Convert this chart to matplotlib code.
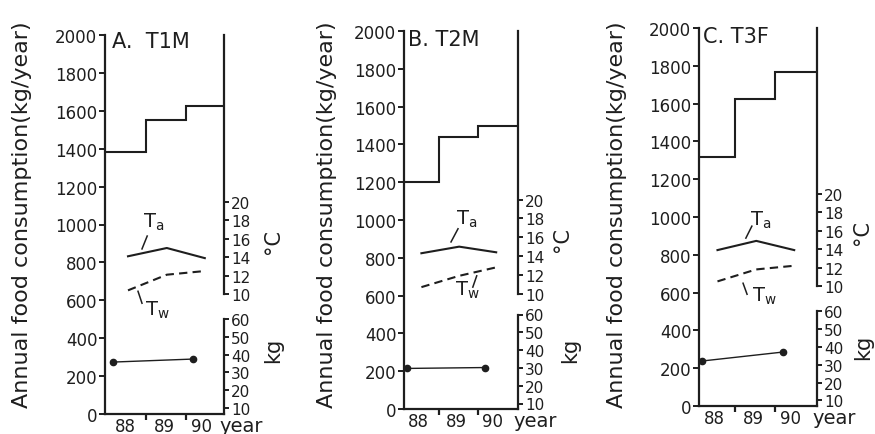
import matplotlib
matplotlib.use('Agg')
import matplotlib.pyplot as plt

plt.rcParams['font.family'] = 'DejaVu Sans'
plt.rcParams['mathtext.default'] = 'regular'
ink = '#1e1e1e'

# data
panels = ['A.  T1M', 'B. T2M', 'C. T3F']
years = ['88', '89', '90']
food = [[1385, 1550, 1625], [1200, 1440, 1495], [1315, 1625, 1765]]   # kg/year
t_x = [0.55, 1.52, 2.47]
ta = [[14.1, 15.0, 13.9], [14.3, 15.0, 14.4], [13.9, 14.9, 13.9]]     # deg C
tw = [[10.4, 12.1, 12.5], [10.7, 11.9, 12.8], [10.5, 11.8, 12.2]]     # deg C
kg_x = [0.17, 2.18]
kg = [[35.8, 37.5], [29.7, 30.2], [32.2, 37.2]]

# layout (pixels of a 875x435 canvas)
W, H = 875.0, 435.0
boxes = [(105, 36, 224, 415), (404, 32, 518, 410), (699, 29, 817, 407)]
xlims = [(-0.025, 2.95), (0.103, 3.03), (0.0875, 3.04)]
c_base = [633, 610, 635]      # left-axis value where 10 C sits
c_step = [48.6, 49.8, 48.7]   # left-axis units per 1 C
kg_off = [6, 5.5, 5.5]        # px between bottom axis and the 10 kg tick
kg_px = 1.78                  # px per kg
year_pos = [0.48, 1.46, 2.38]
ylab_x = [22, 327, 617]
title_xy = [(112, 42), (408, 40), (703, 37)]
degc_xy = [(273, 242), (562, 240), (862, 233)]
kg_xy = [(273, 350), (570, 350), (863, 347)]
ta_lab = [(0.93, 17.3), (1.44, 17.4), (1.36, 16.7)]
ta_lead = [((1.03, 0.9), (16.3, 14.9)), ((1.49, 1.31), (16.9, 15.5)), ((1.41, 1.26), (16.5, 15.2))]
tw_lab = [(0.98, 7.8), (1.41, 9.9), (1.41, 8.4)]
tw_lead = [((0.8, 0.9), (10.3, 9.0)), ((1.97, 1.87), (11.9, 10.7)), ((1.19, 1.29), (10.3, 9.1))]

fig = plt.figure(figsize=(W / 100, H / 100), dpi=100)
fig.patch.set_facecolor('white')

for i in range(3):
    x0, y0, x1, y1 = boxes[i]
    ax = fig.add_axes([x0 / W, 1 - y1 / H, (x1 - x0) / W, (y1 - y0) / H])
    xl = xlims[i]
    ax.set_xlim(xl)
    ax.set_ylim(0, 2000)
    ax.stairs(food[i], [xl[0], 1, 2, xl[1]], baseline=None, color=ink, lw=1.5)

    ax.spines['top'].set_visible(False)
    for s in ['left', 'bottom', 'right']:
        ax.spines[s].set_linewidth(1.6)
        ax.spines[s].set_color(ink)
    ax.spines['right'].set_bounds(c_base[i], 2000)

    ax.set_yticks(range(0, 2001, 200))
    ax.tick_params(axis='y', direction='out', length=4.5, width=1.4, labelsize=12, pad=1,
                   color=ink, labelcolor=ink)
    ax.set_xticks([1, 2])
    ax.set_xticklabels([])
    ax.tick_params(axis='x', which='major', direction='out', length=4.5, width=1.6, color=ink)
    ax.set_xticks(year_pos, years, minor=True)
    ax.tick_params(axis='x', which='minor', length=0, labelsize=12, pad=2, labelcolor=ink)
    ax.annotate('year', xy=(1, 0), xycoords='axes fraction', xytext=(-3, -1.5),
                textcoords='offset points', ha='left', va='top', fontsize=14, color=ink)

    fig.text(ylab_x[i] / W, 1 - 215 / H, 'Annual food consumption(kg/year)', rotation=90,
             ha='center', va='center', fontsize=16, color=ink)
    fig.text(title_xy[i][0] / W, 1 - title_xy[i][1] / H, panels[i], ha='left', va='center',
             fontsize=15, color=ink)
    fig.text(degc_xy[i][0] / W, 1 - degc_xy[i][1] / H, '°C', rotation=90, ha='center',
             va='center', fontsize=15, color=ink)
    fig.text(kg_xy[i][0] / W, 1 - kg_xy[i][1] / H, 'kg', rotation=90, ha='center',
             va='center', fontsize=15, color=ink)

    # temperature axis
    axc = ax.twinx()
    axc.set_ylim(10 - c_base[i] / c_step[i], 10 + (2000 - c_base[i]) / c_step[i])
    for s in axc.spines.values():
        s.set_visible(False)
    axc.set_yticks(range(10, 21, 2))
    axc.tick_params(axis='y', direction='out', length=3.5, width=1.4, labelsize=11, pad=1.5,
                    color=ink, labelcolor=ink)
    axc.plot(t_x, ta[i], color=ink, lw=1.5)
    axc.plot(t_x, tw[i], color=ink, lw=1.5, dashes=(4, 2.5))
    axc.plot(ta_lead[i][0], ta_lead[i][1], color=ink, lw=1.1)
    axc.plot(tw_lead[i][0], tw_lead[i][1], color=ink, lw=1.1)
    axc.text(ta_lab[i][0], ta_lab[i][1], r'T$_\mathrm{a}$', fontsize=14, color=ink,
             ha='left', va='baseline')
    axc.text(tw_lab[i][0], tw_lab[i][1], r'T$_\mathrm{w}$', fontsize=14, color=ink,
             ha='left', va='baseline')

    # body mass axis
    axk = ax.twinx()
    k_lo = 10 - kg_off[i] / kg_px
    axk.set_ylim(k_lo, k_lo + (y1 - y0) / kg_px)
    for s in ['left', 'top', 'bottom']:
        axk.spines[s].set_visible(False)
    axk.spines['right'].set_linewidth(1.6)
    axk.spines['right'].set_color(ink)
    axk.spines['right'].set_bounds(k_lo, 60)
    axk.set_yticks(range(10, 61, 10))
    axk.tick_params(axis='y', direction='out', length=3.5, width=1.4, labelsize=11, pad=1.5,
                    color=ink, labelcolor=ink)
    axk.plot(kg_x, kg[i], color=ink, lw=1.0, marker='o', ms=4.5)

fig.savefig('out.png', dpi=100, facecolor='white')
